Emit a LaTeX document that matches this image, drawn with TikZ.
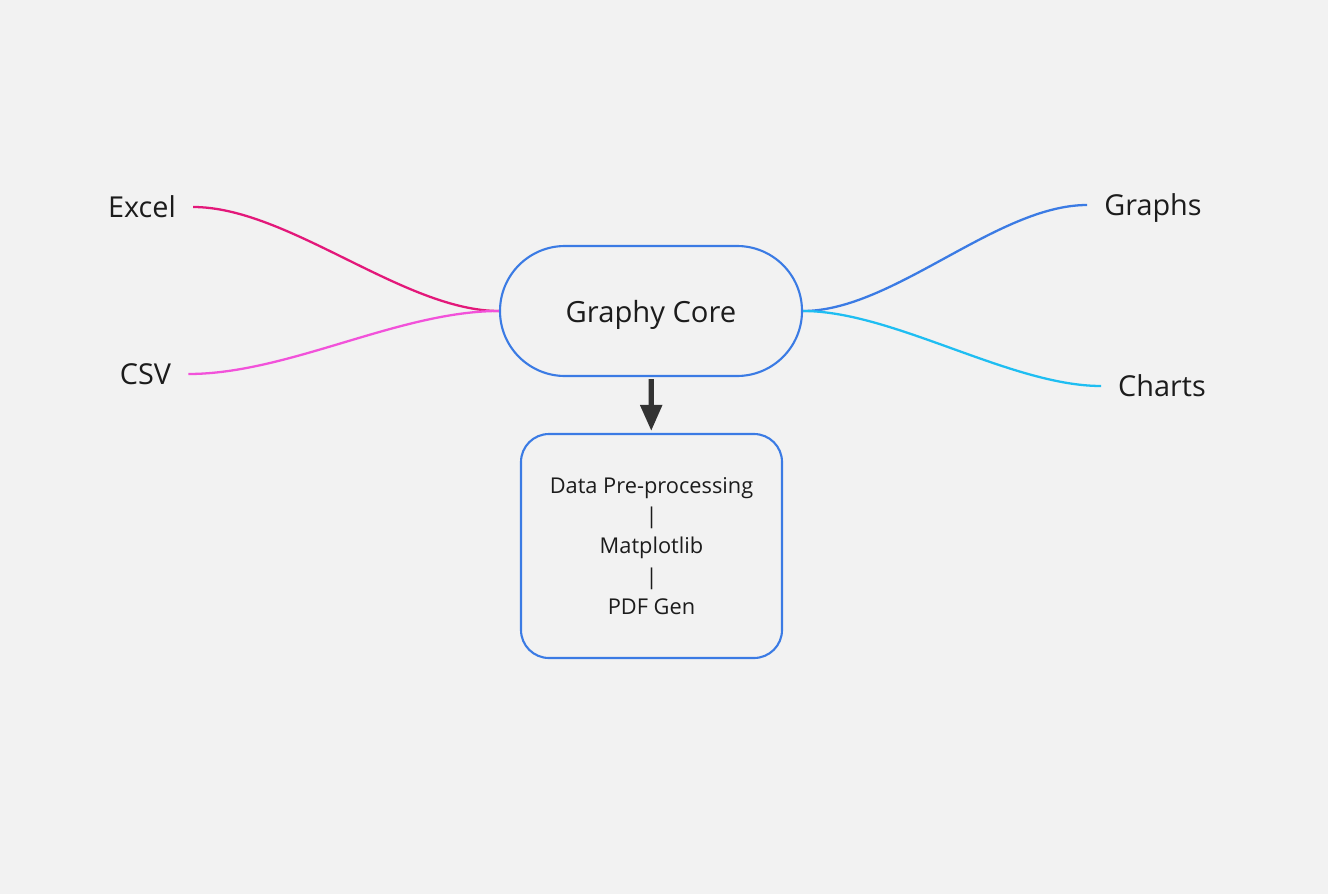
\documentclass[tikz,border=0pt]{standalone}
\usepackage{fontspec}
\setmainfont{Open Sans}
\usetikzlibrary{arrows.meta}
\definecolor{bgc}{HTML}{F2F2F2}
\definecolor{coreblue}{HTML}{3B7BE4}
\definecolor{excelpink}{HTML}{E3187A}
\definecolor{csvpink}{HTML}{F252DA}
\definecolor{chartcyan}{HTML}{1FBEF2}
\definecolor{txt}{HTML}{1C1C1C}
\definecolor{arrowgray}{HTML}{333333}
\begin{document}
\begin{tikzpicture}[text=txt,
  core/.style={draw=coreblue, line width=0.6pt, rounded corners=0.65cm,
               minimum width=3.02cm, minimum height=1.30cm, align=center,
               text depth=0pt, font=\fontsize{8.3}{10}\selectfont},
  stage/.style={draw=coreblue, line width=0.6pt, rounded corners=0.28cm,
                minimum width=2.61cm, minimum height=2.24cm, align=center,
                font=\fontsize{6.2}{8.6}\selectfont},
  leaf/.style={inner xsep=0.165cm, inner ysep=2pt, font=\fontsize{8.2}{10}\selectfont},
  branch/.style={line width=0.65pt, draw=#1},
  arr/.style={-{Triangle[length=0.26cm, width=0.21cm]}, line width=1.5pt,
              draw=arrowgray, shorten <=0.02cm, shorten >=0.02cm}
]
  \useasboundingbox (0,0) rectangle (13.28,8.94);
  \fill[bgc] (0,0) rectangle (13.28,8.94);
  \node[core]  (core)   at (6.51, 5.83)  {Graphy Core};
  \node[stage] (stages) at (6.515, 3.48) {Data Pre-processing\\|\\Matplotlib\\|\\PDF Gen};
  \node[leaf]  (excel)  at (1.42, 6.87)  {Excel};
  \node[leaf]  (csv)    at (1.455, 5.20) {CSV};
  \node[leaf, text depth=0pt] (graphs) at (11.53, 6.89) {Graphs};
  \node[leaf]  (charts) at (11.62, 5.08) {Charts};
  % inputs
  \draw[branch=excelpink] (excel.east) .. controls +(0.95,0) and +(-0.95,0) .. (core.west);
  \draw[branch=csvpink]   (csv.east)   .. controls +(1.0,0) and +(-1.0,0) .. (core.west);
  % outputs
  \draw[branch=coreblue]  (core.east) .. controls +(0.9,0) and +(-0.9,0) .. (graphs.west);
  \draw[branch=chartcyan] (core.east) .. controls +(0.9,0) and +(-0.9,0) .. (charts.west);
  \draw[arr] (core) -- (stages);
\end{tikzpicture}
\end{document}
